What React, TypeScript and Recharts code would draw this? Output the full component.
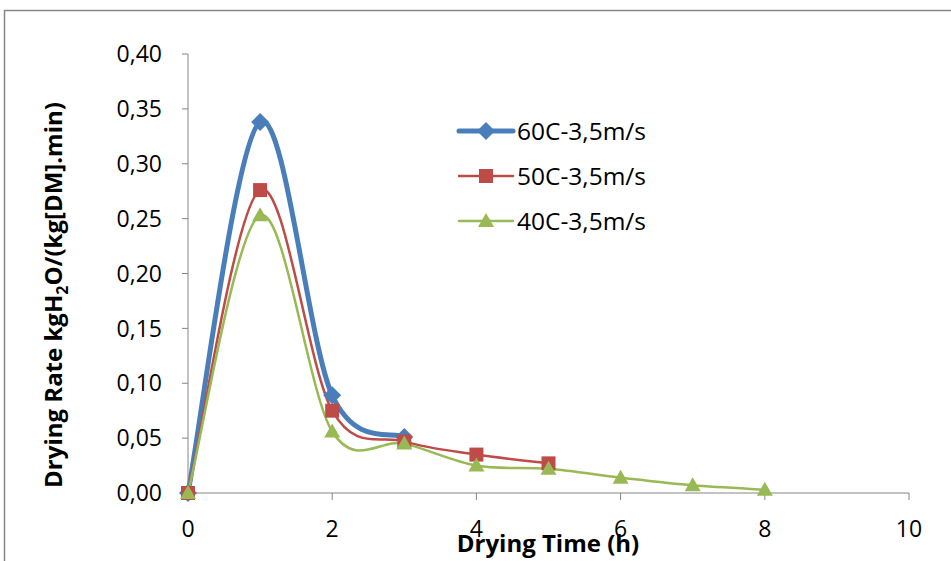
import React from "react";
import { Line, LineChart, XAxis, YAxis } from "recharts";

const time60 = [0, 1, 2, 3];
const rate60 = [0, 0.338, 0.089, 0.051];
const time50 = [0, 1, 2, 3, 4, 5];
const rate50 = [0, 0.276, 0.075, 0.047, 0.035, 0.027];
const time40 = [0, 1, 2, 3, 4, 5, 6, 7, 8];
const rate40 = [0, 0.253, 0.056, 0.045, 0.025, 0.022, 0.014, 0.007, 0.003];

const xTicks = [0, 2, 4, 6, 8, 10];
const yTicks = [0, 0.05, 0.1, 0.15, 0.2, 0.25, 0.3, 0.35, 0.4];

const SERIES = [
  { name: "60C-3,5m/s", color: "#4A7EBB", width: 5, marker: "diamond", x: time60, y: rate60 },
  { name: "50C-3,5m/s", color: "#BE4B48", width: 2.5, marker: "square", x: time50, y: rate50 },
  { name: "40C-3,5m/s", color: "#98B954", width: 2.5, marker: "triangle", x: time40, y: rate40 },
];

const FONT = "'Open Sans', 'Noto Sans', sans-serif";

// Excel-like smoothed line (Catmull-Rom through every point)
function smoothCurve(context: any) {
  let pts: [number, number][] = [];
  return {
    areaStart() {},
    areaEnd() {},
    lineStart() {
      pts = [];
    },
    lineEnd() {
      if (!pts.length) return;
      context.moveTo(pts[0][0], pts[0][1]);
      for (let i = 0; i < pts.length - 1; i++) {
        const p0 = pts[i - 1] || pts[i];
        const p1 = pts[i];
        const p2 = pts[i + 1];
        const p3 = pts[i + 2] || p2;
        context.bezierCurveTo(
          p1[0] + (p2[0] - p0[0]) / 6,
          p1[1] + (p2[1] - p0[1]) / 6,
          p2[0] - (p3[0] - p1[0]) / 6,
          p2[1] - (p3[1] - p1[1]) / 6,
          p2[0],
          p2[1]
        );
      }
    },
    point(x: number, y: number) {
      pts.push([x, y]);
    },
  };
}

function Marker({ kind, cx, cy, color }: { kind: string; cx: number; cy: number; color: string }) {
  if (kind === "diamond") {
    const r = 9;
    return <polygon points={`${cx},${cy - r} ${cx + r},${cy} ${cx},${cy + r} ${cx - r},${cy}`} fill={color} />;
  }
  if (kind === "square") {
    const r = 7;
    return <rect x={cx - r} y={cy - r} width={r * 2} height={r * 2} fill={color} />;
  }
  const r = 8;
  return <polygon points={`${cx},${cy - r} ${cx + r},${cy + 6} ${cx - r},${cy + 6}`} fill={color} />;
}

function LegendBox() {
  return (
    <div style={{ fontFamily: FONT, fontSize: 24.5, color: "#000" }}>
      {SERIES.map((s) => (
        <div key={s.name} style={{ display: "flex", alignItems: "center", height: 45 }}>
          <svg width={62} height={24}>
            <line x1={4} y1={12} x2={58} y2={12} stroke={s.color} strokeWidth={s.width} strokeLinecap="round" />
            <Marker kind={s.marker} cx={31} cy={12} color={s.color} />
          </svg>
          <span>{s.name}</span>
        </div>
      ))}
    </div>
  );
}

const fmt = (v: number) => v.toFixed(2).replace(".", ",");

export default function App() {
  return (
    <div
      style={{
        position: "absolute",
        left: 0,
        top: 0,
        width: 951,
        height: 561,
        overflow: "hidden",
        background: "#fff",
      }}
    >
      <div style={{ position: "absolute", left: 0, top: 0 }}>
        <LineChart width={951} height={561} margin={{ top: 54, right: 42, bottom: 0, left: 0 }}>
          <XAxis
            type="number"
            dataKey="x"
            domain={[0, 10]}
            ticks={xTicks}
            allowDuplicatedCategory={false}
            height={68}
            tickSize={7}
            tickMargin={21}
            stroke="#868686"
            tick={{ fill: "#000", fontFamily: FONT, fontSize: 23 }}
          />
          <YAxis
            type="number"
            domain={[0, 0.4]}
            ticks={yTicks}
            width={188}
            tickSize={6}
            tickMargin={20}
            tickFormatter={fmt}
            stroke="#868686"
            tick={{ fill: "#000", fontFamily: FONT, fontSize: 23 }}
          />
          {SERIES.map((s) => (
            <Line
              key={s.name}
              name={s.name}
              data={s.x.map((x, i) => ({ x, y: s.y[i] }))}
              dataKey="y"
              type={smoothCurve as any}
              stroke={s.color}
              strokeWidth={s.width}
              isAnimationActive={false}
              dot={(p: any) => <Marker key={p.index} kind={s.marker} cx={p.cx} cy={p.cy} color={s.color} />}
              activeDot={false}
            />
          ))}
        </LineChart>
      </div>
      <div style={{ position: "absolute", left: 455, top: 108 }}>
        <LegendBox />
      </div>
      <svg width={951} height={561} style={{ position: "absolute", left: 0, top: 0, pointerEvents: "none" }}>
        <line x1={4.5} y1={10} x2={4.5} y2={561} stroke="#868686" strokeWidth={1.5} />
        <line x1={4} y1={10.5} x2={951} y2={10.5} stroke="#868686" strokeWidth={1.5} />
        <text x={548} y={552} textAnchor="middle" fontFamily={FONT} fontSize={24} fontWeight="bold">
          Drying Time (h)
        </text>
        <text
          transform="translate(62,295) rotate(-90)"
          textAnchor="middle"
          fontFamily={FONT}
          fontSize={24}
          fontWeight="bold"
        >
          Drying Rate kgH
          <tspan fontSize={16} dy={6}>2</tspan>
          <tspan dy={-6}>O/(kg[DM].min)</tspan>
        </text>
      </svg>
    </div>
  );
}
